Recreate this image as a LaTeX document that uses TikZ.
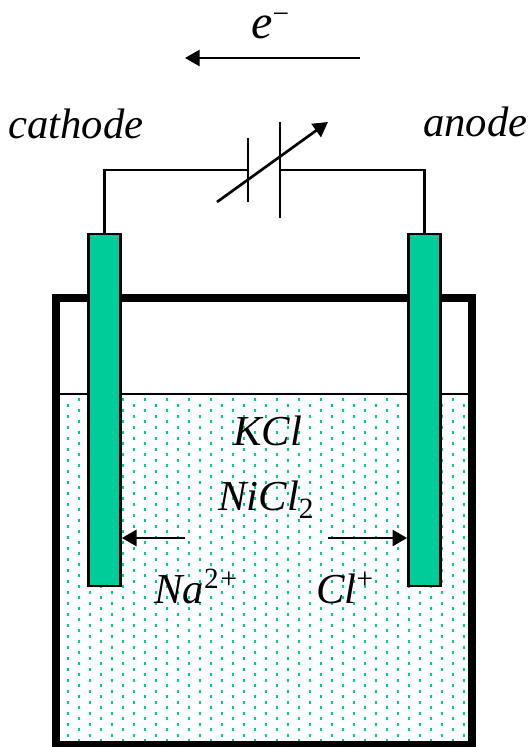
\documentclass[tikz,border=0pt]{standalone}
\usepackage{fontspec}
\setmainfont{Liberation Serif}
\usepackage{tikz}
\usetikzlibrary{arrows.meta,positioning,calc}
\definecolor{bargreen}{HTML}{00CC99}
\tikzset{
  wire/.style={line width=1.6pt},
  tiparrow/.style={line width=2pt,-{Triangle[length=11pt,width=12pt]}},
  electrode/.style={draw,line width=2pt,fill=bargreen,minimum width=24pt,minimum height=264pt,inner sep=0pt},
  label/.style={font=\fontsize{32}{32}\selectfont\itshape,inner sep=0pt,anchor=base west},
}
\newcommand{\upmark}[1]{\raisebox{0.35em}{\fontsize{22}{22}\selectfont\upshape #1}}
\begin{document}
\begin{tikzpicture}[x=0.75pt,y=-0.75pt]
  \useasboundingbox (0,0) rectangle (529,747);
  % solution with its dots
  \begin{scope}
    \clip (56,394) rectangle (472,745);
    \foreach \i in {0,...,19} {
      \foreach \j in {0,...,32} {
        \fill[bargreen] ($(77.8,398)+(22*\i,11*\j)$) rectangle +(2.6,2.6);
        \fill[bargreen] ($(66.8,404)+(22*\i,11*\j)$) rectangle +(2.6,2.6);
      }
    }
  \end{scope}
  % vessel
  \draw[line width=2pt] (56,394) -- (472,394);
  \draw[line width=6pt] (56,298) rectangle (472,744.5);
  % electrodes
  \node[electrode] (cathodebar) at (104.5,410) {};
  \node[electrode] (anodebar) at (424.5,410) {};
  % variable capacitor
  \coordinate (plateL) at (248,170);
  \coordinate (plateR) at (280,170);
  \coordinate (plateLtop) at (248,138);
  \coordinate (plateLbot) at (248,202);
  \coordinate (plateRtop) at (280,122);
  \coordinate (plateRbot) at (280,218);
  \coordinate (tuneS) at (217,202);
  \coordinate (tuneE) at (328,122);
  \draw[wire] (cathodebar.north) |- (plateL);
  \draw[wire] (anodebar.north) |- (plateR);
  \draw[wire] (plateLtop) -- (plateLbot);
  \draw[wire] (plateRtop) -- (plateRbot);
  \draw[tiparrow] (tuneS) -- (tuneE);
  % electron flow
  \coordinate (flowS) at (360,58);
  \coordinate (flowE) at (185,58);
  \draw[tiparrow] (flowS) -- (flowE);
  % ion arrows
  \coordinate (naS) at (185,538);
  \coordinate (clS) at (328,538);
  \draw[tiparrow] (naS) -- (cathodebar.east |- naS);
  \draw[tiparrow] (clS) -- (anodebar.west |- clS);
  % labels
  \node[label,font=\fontsize{36}{36}\selectfont\itshape] (elec) at (251,38) {e\raisebox{0.3em}{\fontsize{22}{22}\selectfont\upshape −}};
  \node[label] (cathodetxt) at (8,138) {cathode};
  \node[label] (anodetxt) at (423,136) {anode};
  \node[label] (kcl) at (233,445) {KCl};
  \node[label] (nicl) at (218,510) {NiCl\raisebox{-0.2em}{\fontsize{22}{22}\selectfont\upshape 2}};
  \node[label] (na) at (154,603) {Na\upmark{2\kern1.5pt+}};
  \node[label] (cl) at (316,603) {Cl\upmark{+}};
\end{tikzpicture}
\end{document}
